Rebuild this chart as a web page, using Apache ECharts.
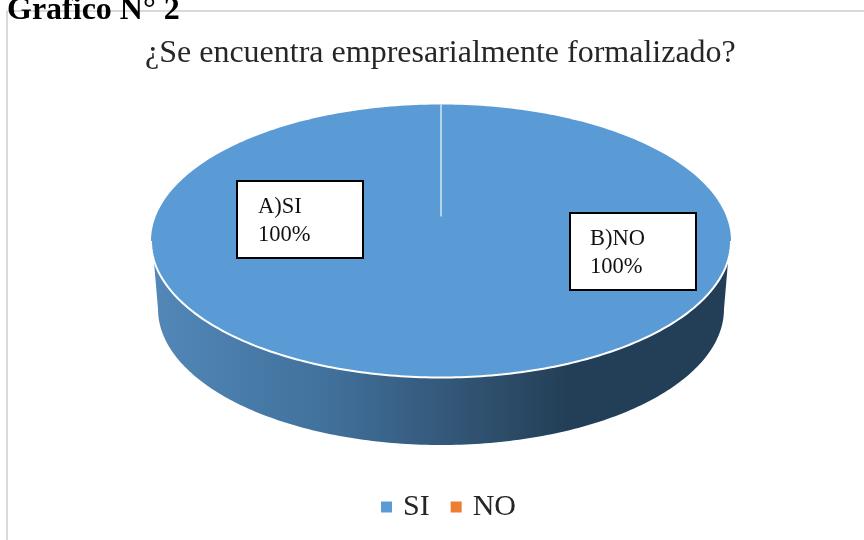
<!DOCTYPE html>
<html>
<head>
<meta charset="utf-8">
<title>Grafico N° 2</title>
<script src="https://cdn.jsdelivr.net/npm/echarts@6/dist/echarts.min.js"></script>
<style>
  html, body { margin: 0; padding: 0; background: #fff; }
  #chart { width: 864px; height: 540px; }
</style>
</head>
<body>
<div id="chart"></div>
<script>
const categories = ['SI', 'NO'];
const values = [100, 0];
const sliceColors = ['#5b9bd5', '#ed7d31'];
const boxLabels = ['A)SI\n100%', 'B)NO\n100%'];
const chartTitle = '¿Se encuentra empresarialmente formalizado?';
const pageHeading = 'Grafico N° 2';

const SERIF = '"Liberation Serif", "Times New Roman", serif';

// geometria del disco
const cx = 441, cy = 241, rx = 290, ry = 136.5;
const wallCy = 309, wallRx = 283, wallRy = 136;
const boxes = [
  { x: 237, y: 181, w: 126, h: 77, textX: 258, textY: 193 },
  { x: 570, y: 213, w: 126, h: 77, textX: 590, textY: 225 }
];

const total = values.reduce((a, b) => a + b, 0);

function arcPoints(a0, a1, ex, ey, ox, oy) {
  const pts = [];
  const n = Math.max(1, Math.round(Math.abs(a1 - a0) / (Math.PI / 180)));
  for (let i = 0; i <= n; i++) {
    const a = a0 + (a1 - a0) * i / n;
    pts.push([ox + ex * Math.cos(a), oy + ey * Math.sin(a)]);
  }
  return pts;
}

function startAngle(index) {
  let sum = 0;
  for (let i = 0; i < index; i++) sum += values[i];
  return -Math.PI / 2 + sum / total * Math.PI * 2;
}

function renderWall() {
  const pts = [[cx - rx + 3, cy + 21]]
    .concat(arcPoints(Math.PI, 0, wallRx, wallRy, cx, wallCy))
    .concat([[cx + rx - 3, cy + 21]]);
  return {
    type: 'polygon',
    shape: { points: pts },
    style: {
      fill: {
        type: 'linear', x: 0, y: 0, x2: 1, y2: 0,
        colorStops: [
          { offset: 0, color: '#5287b8' },
          { offset: 0.3, color: '#41719c' },
          { offset: 0.55, color: '#315372' },
          { offset: 0.72, color: '#233f57' },
          { offset: 1, color: '#233f57' }
        ]
      }
    }
  };
}

function renderSlice(seriesIndex) {
  const a0 = startAngle(seriesIndex);
  const a1 = a0 + values[seriesIndex] / total * Math.PI * 2;
  const children = [];
  if (values[seriesIndex] > 0) {
    children.push(renderWall());
    children.push({
      type: 'polygon',
      shape: { points: arcPoints(a0, a1, rx, ry, cx, cy) },
      style: { fill: sliceColors[seriesIndex] }
    });
    // borde blanco de la cara superior
    children.push({
      type: 'polyline',
      shape: { points: arcPoints(0, Math.PI, rx, ry, cx, cy) },
      style: { fill: 'none', stroke: '#fff', lineWidth: 2 }
    });
  } else {
    // porcion sin valor: solo queda la linea de separacion
    children.push({
      type: 'line',
      shape: {
        x1: cx + rx * Math.cos(a0),
        y1: cy + ry * Math.sin(a0),
        x2: cx + rx * 0.18 * Math.cos(a0),
        y2: cy + ry * 0.18 * Math.sin(a0)
      },
      style: { stroke: '#d6e4f2', lineWidth: 1.5 }
    });
  }
  const box = boxes[seriesIndex];
  children.push({
    type: 'rect',
    z2: 10,
    shape: { x: box.x, y: box.y, width: box.w, height: box.h },
    style: { fill: '#fff', stroke: '#000', lineWidth: 2 }
  });
  children.push({
    type: 'text',
    z2: 11,
    style: {
      x: box.textX, y: box.textY,
      text: boxLabels[seriesIndex],
      font: '22.5px ' + SERIF,
      fill: '#111',
      lineHeight: 28
    }
  });
  return { type: 'group', children: children };
}

const series = categories.map((name, i) => ({
  name: name,
  type: 'custom',
  coordinateSystem: 'none',
  silent: true,
  z: values[i] > 0 ? 2 : 3,
  itemStyle: { color: sliceColors[i] },
  data: [[values[i]]],
  renderItem: () => renderSlice(i)
}));

const chart = echarts.init(document.getElementById('chart'), null, { renderer: 'canvas' });
chart.setOption({
  animation: false,
  backgroundColor: '#fff',
  title: {
    text: chartTitle,
    left: 140,
    top: 33,
    textStyle: { fontFamily: SERIF, fontSize: 32, fontWeight: 'normal', color: '#262626' }
  },
  legend: {
    data: categories,
    left: 376,
    top: 487,
    icon: 'rect',
    itemWidth: 11,
    itemHeight: 11,
    itemGap: 21,
    selectedMode: false,
    textStyle: { fontFamily: SERIF, fontSize: 30, color: '#262626', padding: [0, 0, 0, 6] }
  },
  graphic: [
    // marco del grafico
    { type: 'line', z: 0, shape: { x1: 7, y1: 11, x2: 864, y2: 11 }, style: { stroke: '#d9d9d9', lineWidth: 2 } },
    { type: 'line', z: 0, shape: { x1: 7, y1: 11, x2: 7, y2: 540 }, style: { stroke: '#d9d9d9', lineWidth: 2 } },
    {
      type: 'text', z: 5, left: 7, top: -5,
      style: { text: pageHeading, font: 'bold 32px ' + SERIF, fill: '#000' }
    }
  ],
  series: series
});
</script>
</body>
</html>
